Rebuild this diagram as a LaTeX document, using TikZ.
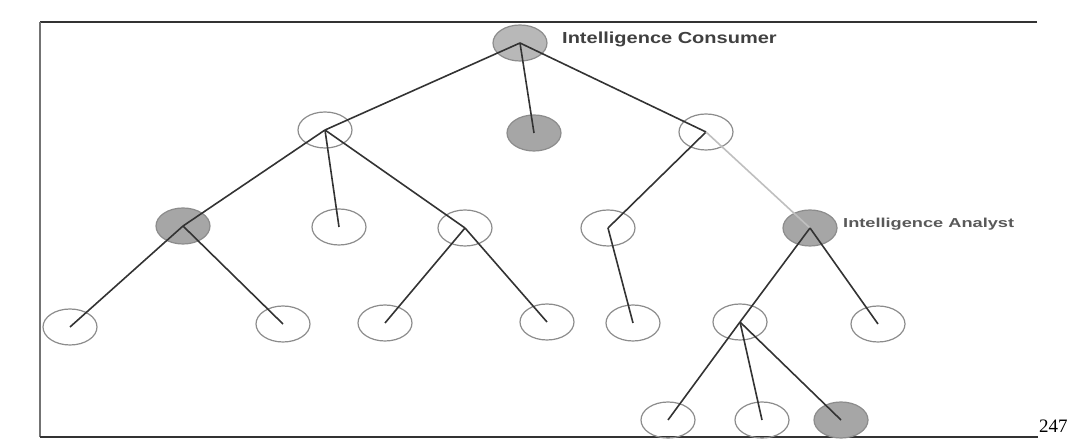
\documentclass[tikz,border=0pt]{standalone}
\usepackage{fontspec}
\setmainfont{Liberation Sans}
\newfontfamily\seriffont{Liberation Serif}
\usetikzlibrary{shapes.geometric}
\tikzset{
  tnode/.style={ellipse, draw=black!45, line width=1.2pt, minimum width=54pt, minimum height=36pt, inner sep=0pt},
  shaded/.style={tnode, fill=black!35},
  edge/.style={draw=black!80, line width=1.6pt},
  lightedge/.style={draw=black!25, line width=1.6pt},
  frame/.style={draw=black!80, line width=2pt},
  lbl/.style={anchor=west, inner sep=0pt, text=black!75, font=\bfseries}
}
\begin{document}
\begin{tikzpicture}[x=1pt,y=-1pt]
\useasboundingbox (0,0) rectangle (1069,443);
% frame
\coordinate (f1) at (1037,22);
\coordinate (f2) at (40,22);
\coordinate (f3) at (40,437);
\coordinate (f4) at (1038,437);
\draw[frame] (f1) -- (f2);
\draw[frame, draw=black!55] (f2) -- (f3);
\draw[frame] (f3) -- (f4);
% nodes
\node[shaded, fill=black!28] (root) at (520,43) {};
\node[tnode] (a1) at (325,130) {};
\node[shaded] (b1) at (534,133) {};
\node[tnode] (c1) at (706,132) {};
\node[shaded] (a2) at (183,226) {};
\node[tnode] (b2) at (339,227) {};
\node[tnode] (c2) at (465,228) {};
\node[tnode] (d2) at (608,228) {};
\node[shaded] (e2) at (810,228) {};
\node[tnode] (a3) at (70,327) {};
\node[tnode] (b3) at (283,324) {};
\node[tnode] (c3) at (385,323) {};
\node[tnode] (d3) at (547,322) {};
\node[tnode] (e3) at (633,323) {};
\node[tnode] (f3n) at (740,322) {};
\node[tnode] (g3) at (878,324) {};
\node[tnode] (a4) at (668,420) {};
\node[tnode] (b4) at (762,420) {};
\node[shaded] (c4) at (841,420) {};
% edges
\draw[edge] (root.center) -- (a1.center);
\draw[edge] (root.center) -- (b1.center);
\draw[edge] (root.center) -- (c1.center);
\draw[edge] (a1.center) -- (a2.center);
\draw[edge] (a1.center) -- (b2.center);
\draw[edge] (a1.center) -- (c2.center);
\draw[edge] (a2.center) -- (a3.center);
\draw[edge] (a2.center) -- (b3.center);
\draw[edge] (c2.center) -- (c3.center);
\draw[edge] (c2.center) -- (d3.center);
\draw[edge] (c1.center) -- (d2.center);
\draw[lightedge] (c1.center) -- (e2.center);
\draw[edge] (d2.center) -- (e3.center);
\draw[edge] (e2.center) -- (f3n.center);
\draw[edge] (e2.center) -- (g3.center);
\draw[edge] (f3n.center) -- (a4.center);
\draw[edge] (f3n.center) -- (b4.center);
\draw[edge] (f3n.center) -- (c4.center);
% labels
\node[lbl] (consumer) at (562,39) {\scalebox{1.25}[1]{\fontsize{16}{16}\selectfont Intelligence Consumer}};
\node[lbl, text=black!65] (analyst) at (843,224) {\scalebox{1.4}[1]{\fontsize{13}{13}\selectfont Intelligence Analyst}};
\node[anchor=base west, inner sep=0pt] (page) at (1039,433) {\seriffont\fontsize{19}{19}\selectfont 247};
\end{tikzpicture}
\end{document}
